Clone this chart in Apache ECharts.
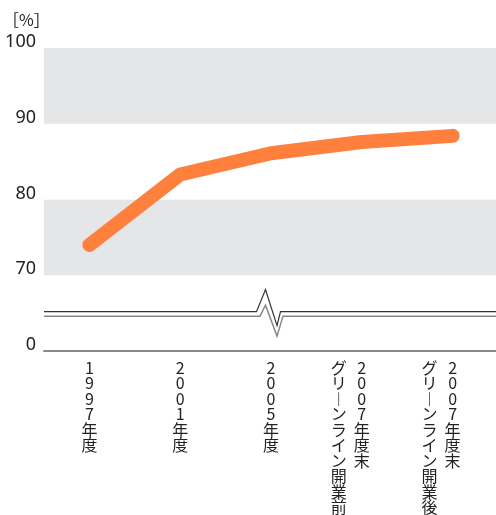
<!DOCTYPE html>
<html>
<head>
<meta charset="utf-8">
<script src="https://cdn.jsdelivr.net/npm/echarts@6/dist/echarts.min.js"></script>
<style>
  html, body { margin: 0; padding: 0; background: #fff; }
  #main { width: 496px; height: 515px; }
</style>
</head>
<body>
<div id="main"></div>
<script>
// 年度ごとの値
var categories = ['1997年度', '2001年度', '2005年度', '2007年度末 グリーンライン開業前', '2007年度末 グリーンライン開業後'];
var values = [74.0, 83.3, 86.1, 87.6, 88.4];
// 60 の目盛りは「0」として表示（軸の省略）
var yTicks = [60, 70, 80, 90, 100];
var yTickLabels = ['0', '70', '80', '90', '100'];
var breakValue = 65;
var breakCategory = '2005年度';

var chart = echarts.init(document.getElementById('main'), null, { renderer: 'canvas' });

function vert(ch) {
  return ch === 'ー' ? '︱' : ch;
}

function catLabel(value) {
  var parts = value.split(' ');
  var main = Array.from(parts[0]);
  var sub = parts[1] ? Array.from(parts[1]) : [];
  var n = Math.max(main.length, sub.length);
  var lines = [];
  for (var i = 0; i < n; i++) {
    var l = sub[i] ? vert(sub[i]) : ' ';
    var c = main[i] ? vert(main[i]) : ' ';
    lines.push('{l|' + l + '}{c|' + c + '}{e| }');
  }
  return lines.join('\n');
}

var cellStyle = {
  width: 23,
  align: 'center',
  fontSize: 16,
  lineHeight: 15.5,
  color: '#222',
  fontFamily: 'Noto Sans CJK JP'
};

var option = {
  animation: false,
  title: {
    text: '［%］',
    left: 3,
    top: 12,
    padding: 0,
    textStyle: { fontSize: 16, fontWeight: 'normal', color: '#222', fontFamily: 'Noto Sans CJK JP' }
  },
  grid: { left: 44, right: -2, top: 48, bottom: 164, outerBoundsMode: 'none' },
  xAxis: {
    type: 'category',
    data: categories,
    boundaryGap: true,
    axisLine: { lineStyle: { color: '#888', width: 2 } },
    axisTick: { show: false },
    axisLabel: {
      interval: 0,
      margin: 9,
      formatter: catLabel,
      rich: { l: cellStyle, c: cellStyle, e: cellStyle }
    }
  },
  yAxis: {
    type: 'value',
    min: 60,
    max: 100,
    interval: 10,
    axisLine: { show: false },
    axisTick: { show: false },
    splitLine: { show: false },
    splitArea: { show: true, areaStyle: { color: ['#ffffff', '#e5e6e8'] } },
    axisLabel: {
      margin: 8,
      fontSize: 18,
      color: '#222',
      fontFamily: 'Noto Sans',
      verticalAlign: 'bottom',
      lineHeight: 12,
      formatter: function (v) {
        var i = yTicks.indexOf(v);
        return i >= 0 ? yTickLabels[i] : '';
      }
    }
  },
  series: [{
    type: 'line',
    data: values,
    symbol: 'none',
    lineStyle: { color: '#ff7f3d', width: 14, cap: 'round', join: 'round' }
  }]
};

chart.setOption(option);

// 省略線（二重線とジグザグ）
var cx = chart.convertToPixel({ xAxisIndex: 0 }, breakCategory);
var yb = chart.convertToPixel({ yAxisIndex: 0 }, breakValue);
var x0 = 44;
var x1 = chart.getWidth();
var yu = yb - 1.5;
var yl = yb + 3;

chart.setOption({
  graphic: [
    {
      type: 'polyline',
      silent: true,
      z: 10,
      shape: {
        points: [[x0, yu], [cx - 14.5, yu], [cx - 5.5, yu - 22], [cx + 6, yu + 14], [cx + 9.5, yu], [x1, yu]]
      },
      style: { stroke: '#333', lineWidth: 1.2, fill: null }
    },
    {
      type: 'polyline',
      silent: true,
      z: 10,
      shape: {
        points: [[x0, yl], [cx - 11, yl], [cx - 5.5, yl - 11], [cx + 6, yl + 20], [cx + 12, yl], [x1, yl]]
      },
      style: { stroke: '#888', lineWidth: 1.5, fill: null }
    }
  ]
});
</script>
</body>
</html>
